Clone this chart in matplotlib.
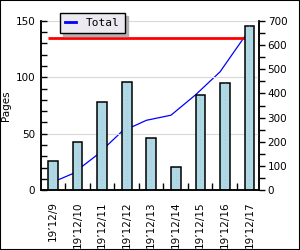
import matplotlib
matplotlib.use("Agg")
import matplotlib.pyplot as plt
import numpy as np
from matplotlib.patches import Rectangle
from matplotlib.ticker import MultipleLocator, FixedLocator

categories = ["19’12/9", "19’12/10", "19’12/11", "19’12/12", "19’12/13",
              "19’12/14", "19’12/15", "19’12/16", "19’12/17"]
pages = [26, 43, 78, 96, 46, 21, 84, 95, 145]
total = list(np.cumsum(pages))
target_level = 135

plt.rcParams['font.family'] = 'DejaVu Sans'
plt.rcParams['font.size'] = 7

fig = plt.figure(figsize=(3.0, 2.5), dpi=100)
fig.patch.set_facecolor('white')
ax = fig.add_axes([40.7/300, 1-190.3/250, (259.3-40.7)/300, (190.3-20.7)/250])
ax2 = ax.twinx()
ax.set_zorder(ax2.get_zorder() + 1)
ax.patch.set_visible(False)
ax2.patch.set_facecolor('white')

x = np.arange(len(categories))
w = 0.39

# cumulative line on right axis (behind bars)
ax2.plot(x, total, color='blue', lw=0.9)
ax2.set_ylim(0, 700)
ax2.yaxis.set_major_locator(MultipleLocator(100))
ax2.yaxis.set_minor_locator(MultipleLocator(50))
ax2.tick_params(axis='y', which='both', direction='out', length=4, width=1, labelsize=7.5, pad=2)

# left axis
ax.set_ylim(0, 150)
ax.set_xlim(-0.312, 8.60)
ax.yaxis.set_major_locator(MultipleLocator(50))
ax.yaxis.set_minor_locator(MultipleLocator(10))
ax.grid(axis='y', which='major', color='#d8d8d8', lw=0.8, zorder=0)
ax.set_axisbelow(True)
ax.hlines(target_level, x[0], x[-1], color='red', lw=2, zorder=1.5)
ax.bar(x, pages, width=w, align='edge', color='#ADD8E6', edgecolor='black', lw=1.1, zorder=2)
ax.vlines(x + w/2, 0, pages, colors='#d9b3b3', linestyles=(0, (1, 3)), lw=0.6, zorder=2.5)

ax.tick_params(axis='y', which='both', direction='in', length=4, width=1, labelsize=7.5, pad=4)
ax.set_xticks(x + w/2)
ax.set_xticklabels(categories, rotation=90)
ax.xaxis.set_minor_locator(FixedLocator(x[:-1] + 0.68))
ax.tick_params(axis='x', which='major', length=0, pad=8, labelsize=7.5)
ax.tick_params(axis='x', which='minor', direction='in', length=5, width=1)
ax.set_ylabel('Pages', fontsize=7.5, labelpad=3)

for a in (ax, ax2):
    a.spines['top'].set_visible(False)
    for s in ('left', 'right', 'bottom'):
        a.spines[s].set_linewidth(1.1)

leg = fig.legend(handles=[plt.Line2D([], [], color='blue', lw=2)], labels=['Total'],
                 loc='upper left', bbox_to_anchor=(60/300, 1-13.3/250),
                 frameon=True, fancybox=False, shadow={'color': '#b0b0b0', 'alpha': 1},
                 handlelength=1.0, handletextpad=0.9, borderpad=0.45, borderaxespad=0,
                 prop={'family': 'DejaVu Sans Mono', 'size': 8})
leg.get_frame().set_edgecolor('black')
leg.get_frame().set_facecolor('#ECEAF0')
leg.get_frame().set_linewidth(1)
leg.get_frame().set_alpha(1)

fig.patches.append(Rectangle((0, 0), 1, 1, transform=fig.transFigure, fill=False,
                             edgecolor='black', lw=1.5))

fig.savefig('out.png', dpi=100)
